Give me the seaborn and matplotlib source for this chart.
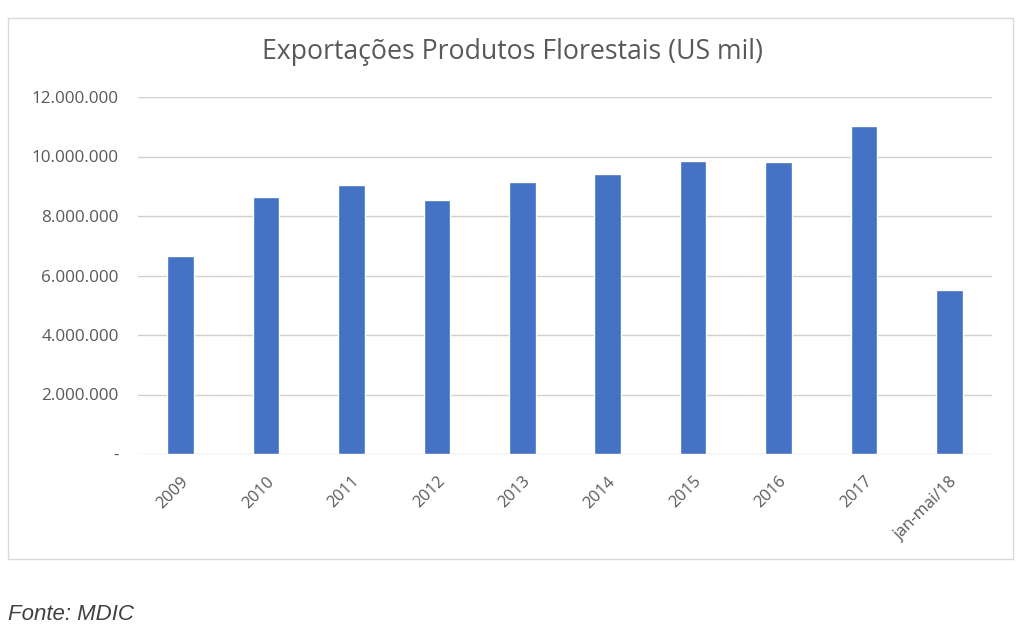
import matplotlib
matplotlib.use("Agg")
import matplotlib.pyplot as plt
import matplotlib.ticker as mticker
from matplotlib.patches import Rectangle
import seaborn as sns
import pandas as pd

categories = ["2009", "2010", "2011", "2012", "2013", "2014", "2015", "2016", "2017", "jan-mai/18"]
values = [6670000, 8650000, 9040000, 8540000, 9140000, 9420000, 9860000, 9800000, 11030000, 5510000]
yticks = [0, 2000000, 4000000, 6000000, 8000000, 10000000, 12000000]

sns.set_theme(style="white")
plt.rcParams["font.family"] = ["Open Sans", "DejaVu Sans"]

df = pd.DataFrame({"cat": categories, "val": values})

fig = plt.figure(figsize=(10.24, 6.39), dpi=100)
ax = fig.add_axes([138/1024, 1-454/639, (992-138)/1024, (454-97)/639])

sns.barplot(data=df, x="cat", y="val", color="#4472C4", width=0.31, ax=ax, saturation=1)

ax.set_ylim(0, 12000000)
ax.set_xlim(-0.5, len(categories)-0.5)
ax.set_yticks(yticks)
def fmt(v, pos):
    if v == 0:
        return "-"
    return f"{int(v):,}".replace(",", ".")
ax.yaxis.set_major_formatter(mticker.FuncFormatter(fmt))
ax.yaxis.grid(True, color="#D0D0D0", linewidth=1)
ax.set_axisbelow(True)
for s in ax.spines.values():
    s.set_visible(False)
ax.set_xlabel("")
ax.set_ylabel("")
ax.tick_params(axis="y", length=0, pad=14, labelsize=12.3, labelcolor="#595959")
ax.tick_params(axis="x", length=0, pad=14, labelsize=11.8, labelcolor="#595959")
for lbl in ax.get_xticklabels():
    lbl.set_rotation(45)
    lbl.set_ha("right")
    lbl.set_rotation_mode("anchor")

fig.text(512/1024, 1-52/639, "Exportações Produtos Florestais (US mil)", ha="center", va="center",
         fontsize=19.2, color="#595959")

fig.patches.append(Rectangle((8/1024, 1-559/639), (1013-8)/1024, (559-18)/639,
                             transform=fig.transFigure, fill=False, edgecolor="#D9D9D9", linewidth=1))

fig.text(8/1024, 1-614/639, "Fonte: MDIC", ha="left", va="center", fontsize=16,
         style="italic", color="#404040", family=["Liberation Sans", "DejaVu Sans"])

fig.savefig("out.png", dpi=100, facecolor="white")
